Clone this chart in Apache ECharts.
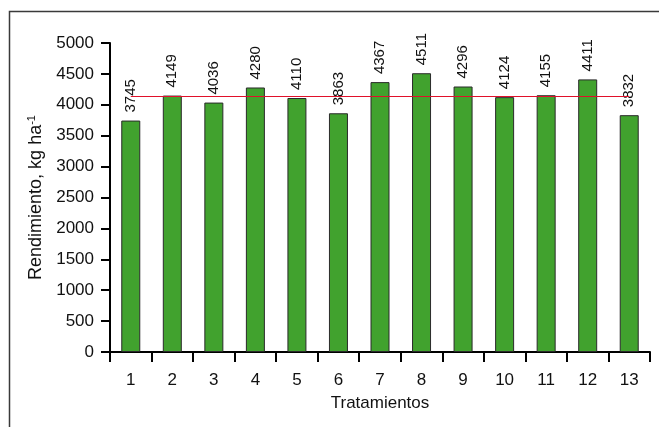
<!DOCTYPE html>
<html>
<head>
<meta charset="utf-8">
<script src="https://cdn.jsdelivr.net/npm/echarts@6/dist/echarts.min.js"></script>
<style>
html,body{margin:0;padding:0;background:#fff;}
#chart{width:659px;height:427px;}
</style>
</head>
<body>
<div id="chart"></div>
<script>
const categories = ['1','2','3','4','5','6','7','8','9','10','11','12','13'];
const yieldValues = [3745, 4149, 4036, 4280, 4110, 3863, 4367, 4511, 4296, 4124, 4155, 4411, 3832];
const meanYield = 4145;
const yTicks = { min: 0, max: 5000, interval: 500 };

const chart = echarts.init(document.getElementById('chart'));
const font = 'Liberation Sans, Arial, sans-serif';
chart.setOption({
  animation: false,
  backgroundColor: '#fff',
  textStyle: { fontFamily: font },
  graphic: [{
    type: 'rect',
    shape: { x: 9.5, y: 11.5, width: 700, height: 500 },
    style: { fill: 'none', stroke: '#3a3a3a', lineWidth: 1.5 },
    silent: true, z: -1
  }],
  grid: { left: 110, right: 9, top: 43, bottom: 75 },
  xAxis: {
    type: 'category',
    data: categories,
    boundaryGap: true,
    name: 'Tratamientos',
    nameLocation: 'middle',
    nameGap: 43,
    nameTextStyle: { color: '#111', fontSize: 17, fontFamily: font },
    axisLine: { lineStyle: { color: '#000', width: 2 } },
    axisTick: { show: true, inside: false, length: 10, interval: 0, alignWithLabel: false, lineStyle: { color: '#000', width: 2 } },
    axisLabel: { color: '#111', fontSize: 17, margin: 20, interval: 0, fontFamily: font },
    splitLine: { show: false }
  },
  yAxis: {
    type: 'value',
    min: yTicks.min, max: yTicks.max, interval: yTicks.interval,
    name: 'Rendimiento, kg ha{sup|-1}',
    nameLocation: 'middle',
    nameGap: 53,
    nameRotate: 90,
    nameTextStyle: {
      color: '#111', fontSize: 18, fontFamily: font,
      rich: { sup: { fontSize: 11, padding: [0, 0, 9, 0], color: '#111', fontFamily: font } }
    },
    axisLine: { show: true, lineStyle: { color: '#000', width: 2 } },
    axisTick: { show: true, inside: false, length: 9, lineStyle: { color: '#000', width: 2 } },
    axisLabel: { color: '#111', fontSize: 17, margin: 16, fontFamily: font, formatter: v => String(v) },
    splitLine: { show: false }
  },
  series: [{
    type: 'bar',
    data: yieldValues,
    barWidth: 19,
    itemStyle: { color: '#41a22e', borderColor: '#2a2a2a', borderWidth: 1 },
    label: {
      show: true, position: 'top', rotate: 90, align: 'left', verticalAlign: 'middle',
      distance: 8, fontSize: 15, color: '#111', fontFamily: font
    },
    markLine: {
      silent: true, symbol: 'none', label: { show: false },
      lineStyle: { color: '#e0102a', width: 1.2, type: 'solid' },
      data: [[{ coord: [0, meanYield] }, { coord: [12, meanYield] }]]
    }
  }]
});
</script>
</body>
</html>
